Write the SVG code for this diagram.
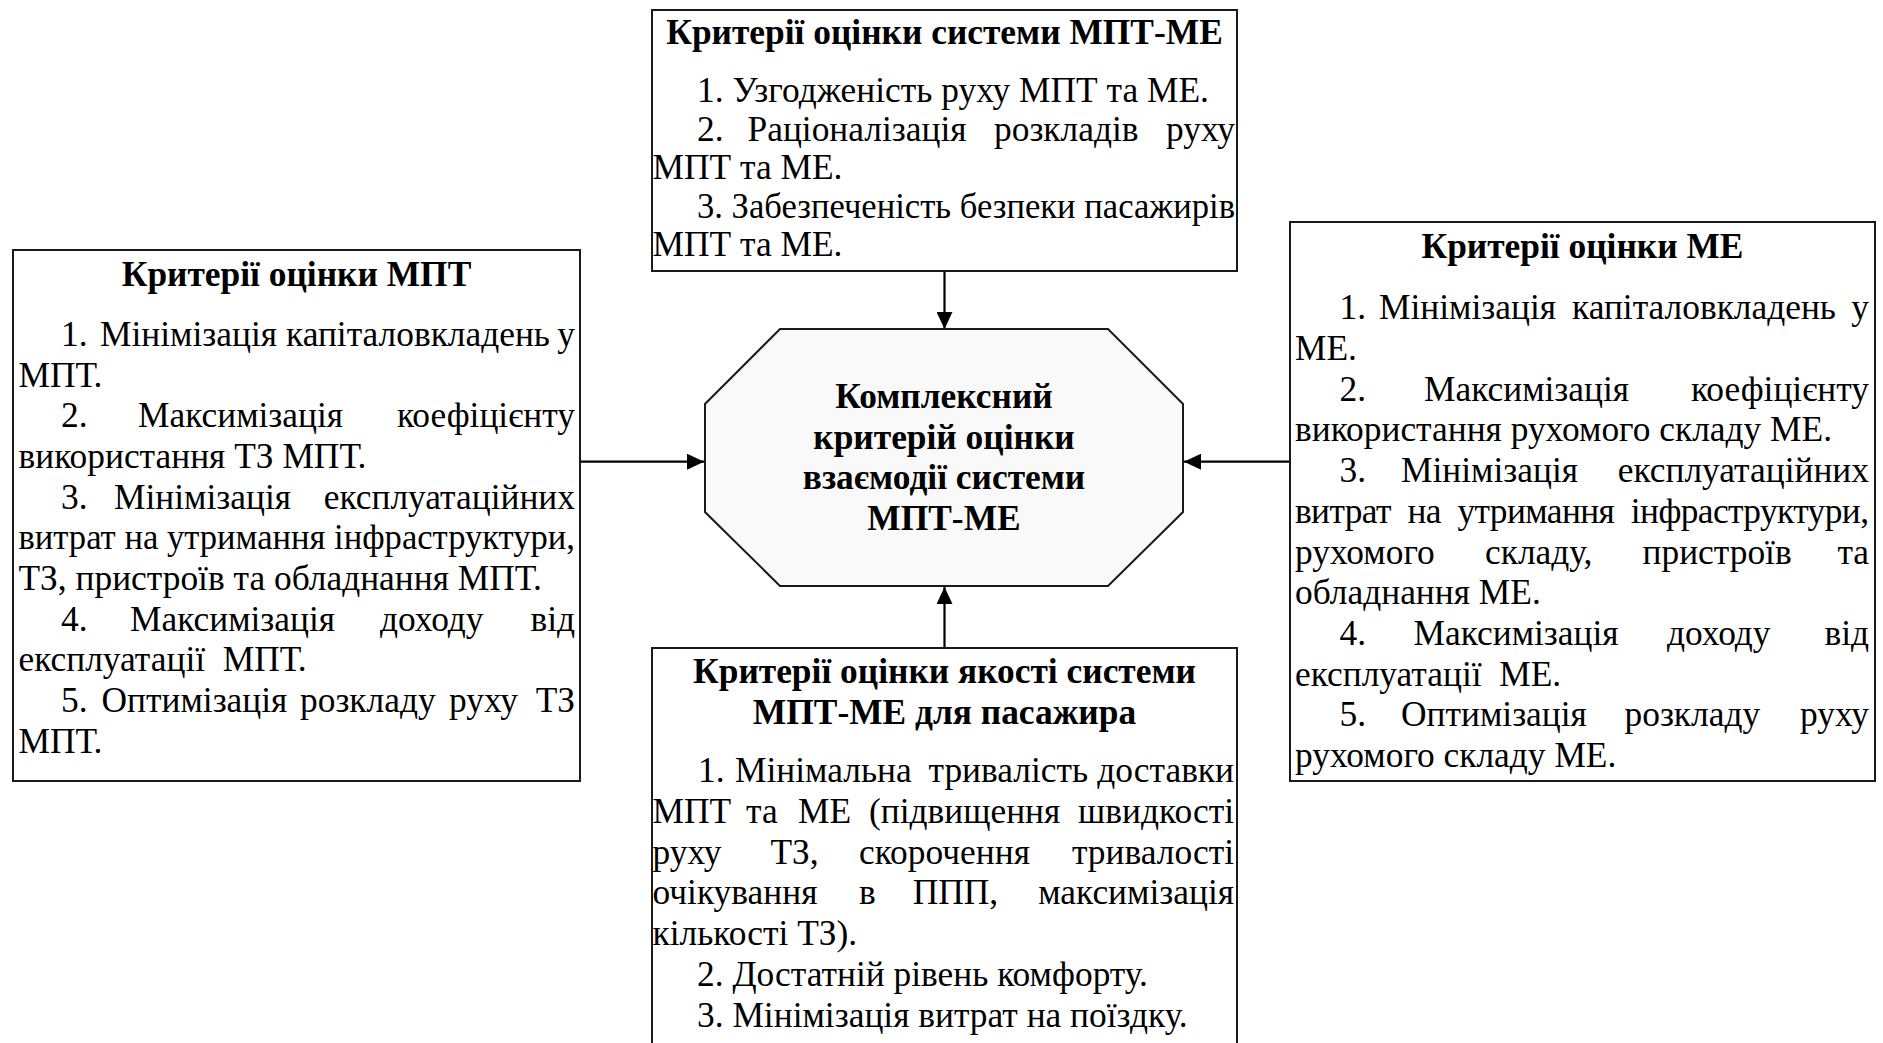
<svg xmlns="http://www.w3.org/2000/svg" width="1883" height="1043" viewBox="0 0 1883 1043">
<defs>
<style>
.box{fill:#ffffff;stroke:#1a1a1a;stroke-width:2}
.oct{fill:#f9f9f9;stroke:#1a1a1a;stroke-width:2}
.t{font-family:"Liberation Serif","Times New Roman",serif;font-size:35.4px;fill:#000}
.b{font-weight:bold}
.c{text-anchor:middle}
.pre{white-space:pre}
.conn{stroke:#000;stroke-width:2.2;fill:none;marker-end:url(#arr)}
</style>
<marker id="arr" markerUnits="userSpaceOnUse" markerWidth="17" markerHeight="16" refX="17" refY="8" orient="auto">
<path d="M0,0 L17,8 L0,16 z" fill="#000"/>
</marker>
</defs>
<rect width="1883" height="1043" fill="#ffffff"/>

<g id="connectors">
<line class="conn" x1="944.5" y1="271" x2="944.5" y2="329"/>
<line class="conn" x1="571" y1="461.7" x2="704" y2="461.7"/>
<line class="conn" x1="1299" y1="461.7" x2="1184" y2="461.7"/>
<line class="conn" x1="944.5" y1="648" x2="944.5" y2="587"/>
</g>

<g id="node-system">
<rect class="box" x="652" y="10" width="585" height="261"/>
<text class="t b c" x="944.5" y="44.4">Критерії оцінки системи МПТ-МЕ</text>
<text class="t" x="697" y="102.4">1. Узгодженість руху МПТ та МЕ.</text>
<text class="t" y="140.8"><tspan x="697">2.</tspan><tspan x="747.5">Раціоналізація</tspan><tspan x="994">розкладів</tspan><tspan x="1235" text-anchor="end">руху</tspan></text>
<text class="t" x="652.5" y="179.2">МПТ та МЕ.</text>
<text class="t" x="697" y="217.6" textLength="538" lengthAdjust="spacingAndGlyphs">3. Забезпеченість безпеки пасажирів</text>
<text class="t" x="652.5" y="256">МПТ та МЕ.</text>
</g>

<g id="node-mpt">
<rect class="box" x="13" y="250" width="567" height="531"/>
<text class="t b c" x="296.5" y="285.8">Критерії оцінки МПТ</text>
<text class="t" y="345.8"><tspan x="61">1.</tspan><tspan x="100">Мінімізація</tspan><tspan x="286">капіталовкладень</tspan><tspan x="575" text-anchor="end">у</tspan></text>
<text class="t" x="18.5" y="386.5">МПТ.</text>
<text class="t" y="427.2"><tspan x="61">2.</tspan><tspan x="138">Максимізація</tspan><tspan x="575" text-anchor="end">коефіцієнту</tspan></text>
<text class="t" x="18.5" y="467.9">використання ТЗ МПТ.</text>
<text class="t" y="508.6"><tspan x="61">3.</tspan><tspan x="114">Мінімізація</tspan><tspan x="575" text-anchor="end">експлуатаційних</tspan></text>
<text class="t" x="18.5" y="549.3" textLength="556.5" lengthAdjust="spacingAndGlyphs">витрат на утримання інфраструктури,</text>
<text class="t" x="18.5" y="590">ТЗ, пристроїв та обладнання МПТ.</text>
<text class="t" y="630.7"><tspan x="61">4.</tspan><tspan x="130">Максимізація</tspan><tspan x="380">доходу</tspan><tspan x="575" text-anchor="end">від</tspan></text>
<text class="t pre" x="18.5" y="671.4">експлуатації  МПТ.</text>
<text class="t" y="712.1"><tspan x="61">5.</tspan><tspan x="101.5">Оптимізація</tspan><tspan x="300">розкладу</tspan><tspan x="449">руху</tspan><tspan x="575" text-anchor="end">ТЗ</tspan></text>
<text class="t" x="18.5" y="752.8">МПТ.</text>
</g>

<g id="node-me">
<rect class="box" x="1290" y="222" width="585" height="559"/>
<text class="t b c" x="1582.5" y="257.8">Критерії оцінки МЕ</text>
<text class="t" y="319.3"><tspan x="1339.5">1.</tspan><tspan x="1379">Мінімізація</tspan><tspan x="1572">капіталовкладень</tspan><tspan x="1869" text-anchor="end">у</tspan></text>
<text class="t" x="1295" y="360">МЕ.</text>
<text class="t" y="400.7"><tspan x="1339.5">2.</tspan><tspan x="1424">Максимізація</tspan><tspan x="1869" text-anchor="end">коефіцієнту</tspan></text>
<text class="t" x="1295" y="441.4">використання рухомого складу МЕ.</text>
<text class="t" y="482.1"><tspan x="1339.5">3.</tspan><tspan x="1401">Мінімізація</tspan><tspan x="1869" text-anchor="end">експлуатаційних</tspan></text>
<text class="t pre" x="1295" y="522.8" textLength="574" lengthAdjust="spacing">витрат  на  утримання  інфраструктури,</text>
<text class="t" y="563.5"><tspan x="1295">рухомого</tspan><tspan x="1485">складу,</tspan><tspan x="1642.5">пристроїв</tspan><tspan x="1869" text-anchor="end">та</tspan></text>
<text class="t" x="1295" y="604.2">обладнання МЕ.</text>
<text class="t" y="644.9"><tspan x="1339.5">4.</tspan><tspan x="1413.5">Максимізація</tspan><tspan x="1667">доходу</tspan><tspan x="1869" text-anchor="end">від</tspan></text>
<text class="t pre" x="1295" y="685.6">експлуатації  МЕ.</text>
<text class="t" y="726.3"><tspan x="1339.5">5.</tspan><tspan x="1401">Оптимізація</tspan><tspan x="1624.5">розкладу</tspan><tspan x="1869" text-anchor="end">руху</tspan></text>
<text class="t" x="1295" y="767">рухомого складу МЕ.</text>
</g>

<g id="node-center">
<polygon class="oct" points="780,329 1108,329 1183,404 1183,512 1108,586 780,586 705,512 705,404"/>
<text class="t b c" x="944" y="408.2">Комплексний</text>
<text class="t b c" x="944" y="448.7">критерій оцінки</text>
<text class="t b c" x="944" y="489.2">взаємодії системи</text>
<text class="t b c" x="944" y="529.7">МПТ-МЕ</text>
</g>

<g id="node-passenger">
<rect class="box" x="652" y="648" width="585" height="420"/>
<text class="t b c" x="944.5" y="682.5">Критерії оцінки якості системи</text>
<text class="t b c" x="944.5" y="724">МПТ-МЕ для пасажира</text>
<text class="t" y="782"><tspan x="698">1.</tspan><tspan x="735">Мінімальна</tspan><tspan x="928.5">тривалість</tspan><tspan x="1234" text-anchor="end">доставки</tspan></text>
<text class="t" y="822.8"><tspan x="652.5">МПТ</tspan><tspan x="746">та</tspan><tspan x="798">МЕ</tspan><tspan x="869">(підвищення</tspan><tspan x="1234" text-anchor="end">швидкості</tspan></text>
<text class="t" y="863.6"><tspan x="652.5">руху</tspan><tspan x="770.4">ТЗ,</tspan><tspan x="859">скорочення</tspan><tspan x="1234" text-anchor="end">тривалості</tspan></text>
<text class="t" y="904.4"><tspan x="652.5">очікування</tspan><tspan x="859">в</tspan><tspan x="912.7">ППП,</tspan><tspan x="1234" text-anchor="end">максимізація</tspan></text>
<text class="t" x="652.5" y="945.2">кількості ТЗ).</text>
<text class="t" x="697" y="986">2. Достатній рівень комфорту.</text>
<text class="t" x="697" y="1026.8">3. Мінімізація витрат на поїздку.</text>
</g>
</svg>
